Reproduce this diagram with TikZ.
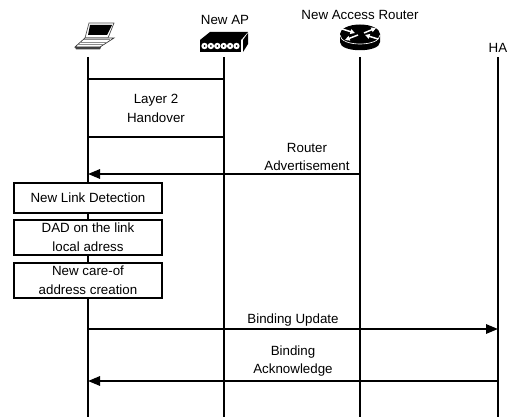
\documentclass[tikz,border=0pt]{standalone}
\usepackage{fontspec}
\setmainfont{Liberation Sans}
\usetikzlibrary{arrows.meta,positioning,shapes.geometric}
\tikzset{
    lifeline/.style={line width=1.5pt},
    msg/.style={line width=1.5pt,-{Triangle[length=9pt,width=7pt]}},
    stepbox/.style={draw,line width=1.5pt,fill=white,minimum width=111pt,align=center,inner sep=0pt},
    lbl/.style={align=center,inner sep=0pt},
    routerarrow/.style={white,line width=1.1pt,-{Triangle[length=3.5pt,width=3.5pt]}},
}
\begin{document}
\begin{tikzpicture}[x=0.75pt,y=-0.75pt,font=\fontsize{10}{14}\selectfont]
    \useasboundingbox (0,0) rectangle (513,420);
    \coordinate (MN) at (88,57);
    \coordinate (AP) at (224,57);
    \coordinate (AR) at (360,57);
    \coordinate (HA) at (498,57);
    \coordinate (MNend) at (88,417);
    \coordinate (APend) at (224,417);
    \coordinate (ARend) at (360,417);
    \coordinate (HAend) at (498,417);
    % lifelines
    \draw[lifeline] (MN) -- (MNend);
    \draw[lifeline] (AP) -- (APend);
    \draw[lifeline] (AR) -- (ARend);
    \draw[lifeline] (HA) -- (HAend);
    % heads
    \node[lbl] (APname) at (225,20) {New AP};
    \node[lbl] (ARname) at (360,15) {New Access Router};
    \node[lbl] (HAname) at (498,48) {HA};
    % laptop
    \draw[black!70,line width=0.5pt] (89,23) -- (114,23) -- (108,38) -- (85,38) -- cycle;
    \fill[black] (90,25) -- (112,25) -- (107,35) -- (88,35) -- cycle;
    \draw[black!80,line width=0.5pt,fill=white] (85,38) -- (114,38) -- (100,47) -- (75,47) -- cycle;
    \fill[black!75] (75,47) -- (101,47) -- (100,49.5) -- (76,49.5) -- cycle;
    \draw[black!45,line width=0.6pt] (81,42) -- (106,42) (78,44.5) -- (103,44.5) (84,39.5) -- (110,39.5);
    % access point
    \fill[black] (210,32) -- (248,32) -- (241,40) -- (200,40) -- cycle;
    \fill[black] (243,40) -- (248,33) -- (248,44) -- (243,52) -- cycle;
    \fill[black] (200,40) rectangle (241,52);
    \foreach \i in {0,...,5} {
        \fill[white] (204.5+\i*6.4,46) circle (3.2);
        \fill[black] (204.5+\i*6.4,46) circle (1);
    }
    % router
    \fill[black] (340,34) -- (340,42) .. controls (340,53) and (380,53) .. (380,42) -- (380,34) -- cycle;
    \fill[black] (360,34) ellipse (20 and 9.5);
    \draw[white,line width=0.5pt] (340,35) .. controls (340,47) and (380,47) .. (380,35);
    \draw[routerarrow] (342,29) -- (355,33);
    \draw[routerarrow] (358,35) -- (345,40);
    \draw[routerarrow] (364,33) -- (376,28);
    \draw[routerarrow] (378,39) -- (365,35);
    % layer 2 box
    \node[stepbox,minimum width=102pt,minimum height=43.5pt] (handover) at (156,108.5) {Layer 2\\Handover};
    % steps on the mobile node
    \node[stepbox,minimum height=22pt] (detect) at (88,198) {New Link Detection};
    \node[stepbox,minimum height=26pt] (dad) at (88,237.5) {DAD on the link\\local adress};
    \node[stepbox,minimum height=26pt] (coa) at (88,280.5) {New care-of\\address creation};
    % messages
    \coordinate (raAR) at (360,174);
    \coordinate (raMN) at (88,174);
    \coordinate (buMN) at (88,329);
    \coordinate (buHA) at (498,329);
    \coordinate (baHA) at (498,381);
    \coordinate (baMN) at (88,381);
    \draw[msg] (raAR) -- (raMN);
    \draw[msg] (buMN) -- (buHA);
    \draw[msg] (baHA) -- (baMN);
    \node[lbl] (ralabel) at (307,157) {Router\\Advertisement};
    \node[lbl] (bulabel) at (293,320) {Binding Update};
    \node[lbl] (balabel) at (293,361) {Binding\\Acknowledge};
\end{tikzpicture}
\end{document}
